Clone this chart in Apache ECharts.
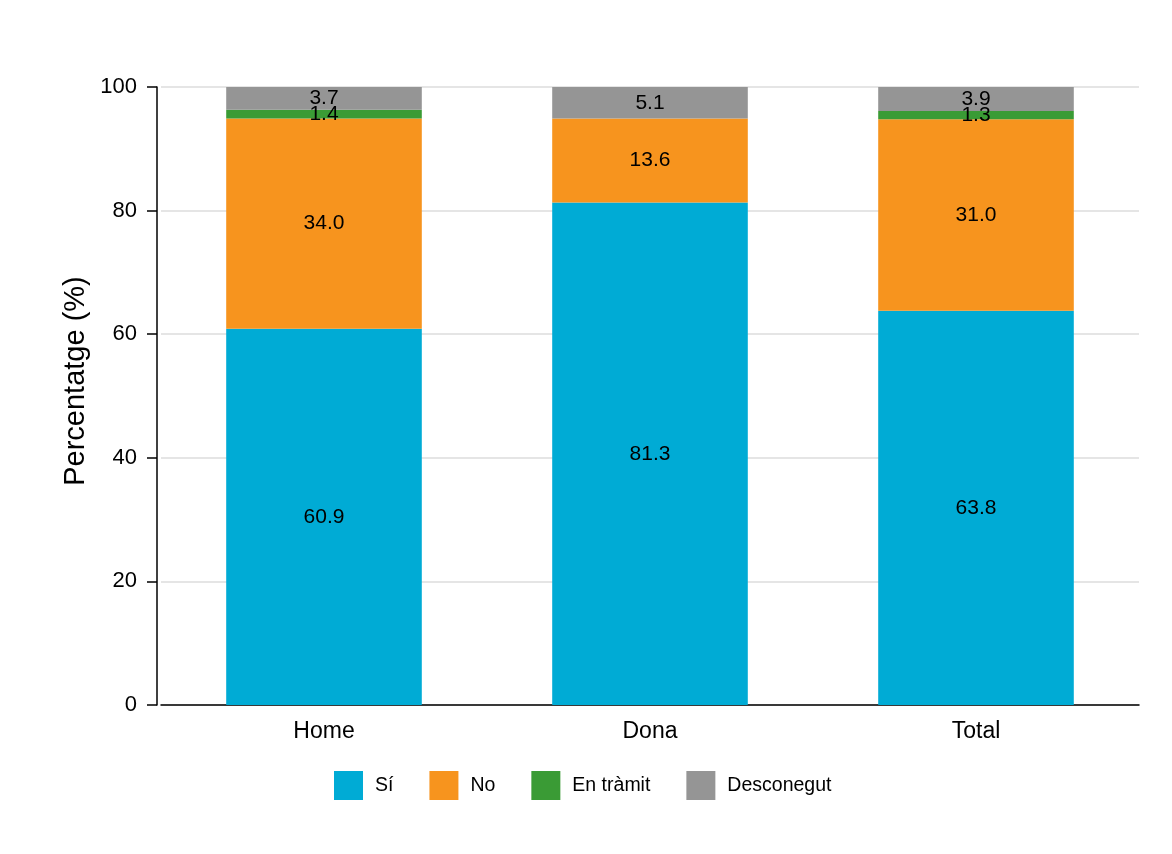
<!DOCTYPE html>
<html>
<head>
<meta charset="utf-8">
<script src="https://cdn.jsdelivr.net/npm/echarts@6/dist/echarts.min.js"></script>
<style>html,body{margin:0;padding:0;background:#fff;}#c{width:1172px;height:854px;}</style>
</head>
<body>
<div id="c"></div>
<script>
const categories = ['Home', 'Dona', 'Total'];
const seriesNames = ['Sí', 'No', 'En tràmit', 'Desconegut'];
const si = [60.9, 81.3, 63.8];
const no = [34.0, 13.6, 31.0];
const enTramit = [1.4, 0, 1.3];
const desconegut = [3.7, 5.1, 3.9];
const yTicks = [0, 20, 40, 60, 80, 100];
const yTitle = 'Percentatge (%)';

const colors = ['#00ABD5', '#F7941E', '#3A9B35', '#959595'];
const dataSets = [si, no, enTramit, desconegut];
const font = 'Liberation Sans, Arial, sans-serif';

const chart = echarts.init(document.getElementById('c'));
chart.setOption({
  animation: false,
  textStyle: { fontFamily: font },
  grid: { left: 161, right: 33, top: 87, bottom: 149, containLabel: false },
  graphic: [{
    type: 'text',
    x: 76,
    y: 381,
    rotation: Math.PI / 2,
    style: {
      text: yTitle,
      fontSize: 29,
      fontFamily: font,
      fill: '#000',
      align: 'center',
      verticalAlign: 'middle'
    }
  }],
  legend: {
    bottom: 49,
    left: 329,
    itemWidth: 29,
    itemHeight: 29,
    itemGap: 36,
    icon: 'rect',
    textStyle: { fontSize: 19.5, color: '#000', fontFamily: font, padding: [0, 0, 0, 7] },
    data: seriesNames
  },
  xAxis: {
    type: 'category',
    data: categories,
    axisLine: { lineStyle: { color: '#000', width: 1.5 } },
    axisTick: { show: false },
    axisLabel: { fontSize: 23, color: '#000', margin: 15, fontFamily: font }
  },
  yAxis: {
    type: 'value',
    min: yTicks[0],
    max: yTicks[yTicks.length - 1],
    interval: 20,
    offset: 4,
    axisLine: { show: true, lineStyle: { color: '#000', width: 1.5 } },
    axisTick: { show: true, length: 10, lineStyle: { color: '#000', width: 1.5 } },
    axisLabel: { fontSize: 22, color: '#000', margin: 20, fontFamily: font },
    splitLine: { lineStyle: { color: '#DDDDDD', width: 1.5 } }
  },
  series: seriesNames.map((name, i) => ({
    name: name,
    type: 'bar',
    stack: 'total',
    barWidth: '60%',
    itemStyle: { color: colors[i] },
    label: {
      show: true,
      position: 'inside',
      color: '#000',
      fontSize: 21,
      fontFamily: font,
      formatter: p => (p.value > 0 ? p.value.toFixed(1) : '')
    },
    data: dataSets[i]
  }))
});
</script>
</body>
</html>
